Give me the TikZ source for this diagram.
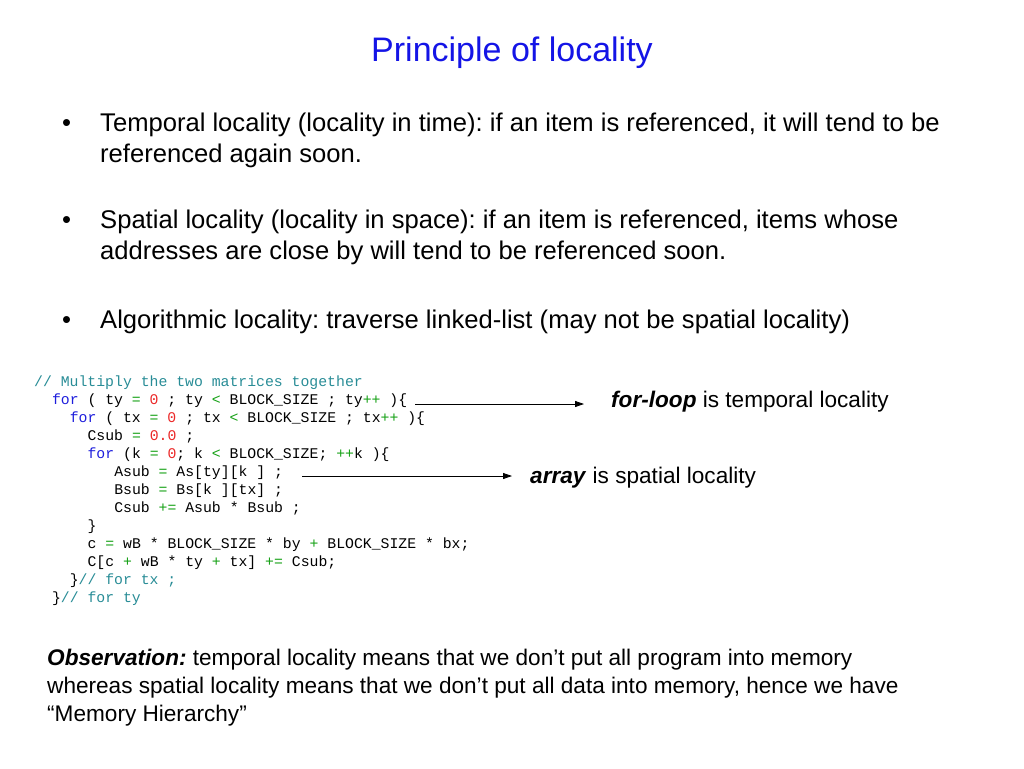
\documentclass[tikz,border=0pt]{standalone}
\usepackage{fontspec}
\setmainfont{Liberation Sans}
\setmonofont{Liberation Mono}
\usetikzlibrary{arrows.meta}
\frenchspacing
\definecolor{titleblue}{RGB}{20,20,230}
\definecolor{kwblue}{RGB}{30,30,220}
\definecolor{numred}{RGB}{235,40,40}
\definecolor{opgreen}{RGB}{20,160,20}
\definecolor{cmteal}{RGB}{40,140,150}
\newcommand{\kw}[1]{\textcolor{kwblue}{#1}}
\newcommand{\nm}[1]{\textcolor{numred}{#1}}
\newcommand{\op}[1]{\textcolor{opgreen}{#1}}
\newcommand{\cm}[1]{\textcolor{cmteal}{#1}}
\tikzset{
  bodytext/.style={anchor=base west,inner sep=0pt,align=left,font=\fontsize{25.6}{31}\selectfont},
  bullet/.style={anchor=base west,inner sep=0pt,font=\fontsize{25.6}{31}\selectfont},
  code/.style={anchor=base west,inner sep=0pt,font=\fontsize{14.8}{18}\ttfamily},
  remark/.style={anchor=base west,inner sep=0pt,align=left,font=\fontsize{22.6}{28}\selectfont},
  pointer/.style={line width=0.8pt,-{Triangle[length=9pt,width=6pt]}}
}
\begin{document}
\begin{tikzpicture}[x=1pt,y=-1pt]
		\useasboundingbox (0,0) rectangle (1024,768);
		\node (title) [anchor=base,inner sep=0pt,text=titleblue,font=\fontsize{34}{40}\selectfont] at (512,62) {Principle of locality};
		\node (b1) [bullet] at (62,131) {\textbullet};
		\node (t1) [bodytext] at (100,162) {Temporal locality (locality in time): if an item is referenced, it will tend to be\\referenced again soon.};
		\node (b2) [bullet] at (62,228) {\textbullet};
		\node (t2) [bodytext] at (100,259) {Spatial locality (locality in space): if an item is referenced, items whose\\addresses are close by will tend to be referenced soon.};
		\node (b3) [bullet] at (62,328) {\textbullet};
		\node (t3) [bodytext] at (100,328) {Algorithmic locality: traverse linked-list (may not be spatial locality)};
		\node (c1) [code] at (34,386) {\cm{// Multiply the two matrices together}};
		\node (c2) [code] at (51.8,404) {\kw{for} ( ty \op{=} \nm{0} ; ty \op{<} BLOCK\_SIZE ; ty\op{++} )\{};
		\node (c3) [code] at (69.6,422) {\kw{for} ( tx \op{=} \nm{0} ; tx \op{<} BLOCK\_SIZE ; tx\op{++} )\{};
		\node (c4) [code] at (87.4,440) {Csub \op{=} \nm{0.0} ;};
		\node (c5) [code] at (87.4,458) {\kw{for} (k \op{=} \nm{0}; k \op{<} BLOCK\_SIZE; \op{++}k )\{};
		\node (c6) [code] at (114.1,476) {Asub \op{=} As[ty][k ] ;};
		\node (c7) [code] at (114.1,494) {Bsub \op{=} Bs[k ][tx] ;};
		\node (c8) [code] at (114.1,512) {Csub \op{+=} Asub * Bsub ;};
		\node (c9) [code] at (87.4,530) {\}};
		\node (c10) [code] at (87.4,548) {c \op{=} wB * BLOCK\_SIZE * by \op{+} BLOCK\_SIZE * bx;};
		\node (c11) [code] at (87.4,566) {C[c \op{+} wB * ty \op{+} tx] \op{+=} Csub;};
		\node (c12) [code] at (69.6,584) {\}\cm{// for tx ;}};
		\node (c13) [code] at (51.8,602) {\}\cm{// for ty}};
		\node (forloop) [remark] at (611,407) {\textbf{\textit{for-loop}} is temporal locality};
		\node (array) [remark] at (530,483) {\textbf{\textit{array}} is spatial locality};
		\draw [pointer] ([xshift=8pt]c2.base east) -- ([xshift=-27pt]c2.base east -| forloop.west);
		\draw [pointer] ([xshift=19pt]c6.base east) -- ([xshift=-18pt]c6.base east -| array.west);
		\node (obs) [remark] at (47,721) {\textbf{\textit{Observation:}} temporal locality means that we don’t put all program into memory\\whereas spatial locality means that we don’t put all data into memory, hence we have\\“Memory Hierarchy”};
	\end{tikzpicture}
\end{document}
